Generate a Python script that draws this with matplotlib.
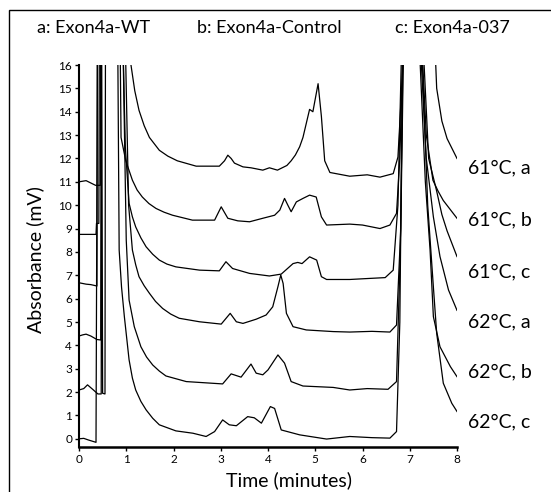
import matplotlib
matplotlib.use("Agg")
import matplotlib.pyplot as plt
import matplotlib.patches as mpatches

plt.rcParams['font.family'] = ['Lato', 'DejaVu Sans']

# chromatogram traces (time in minutes, absorbance in mV, 17 = off scale)
t_61a = [0, 0.15, 0.25, 0.35, 0.45, 0.46, 1.06, 1.10, 1.18, 1.27, 1.38, 1.49, 1.70, 1.88, 2.08, 2.48, 2.97,
         3.08, 3.15, 3.22, 3.29, 3.47, 3.64, 3.89, 4.03, 4.20, 4.40, 4.49, 4.58, 4.67, 4.74, 4.81, 4.88,
         4.95, 5.06, 5.13, 5.20, 5.31, 5.73, 6.10, 6.37, 6.65, 6.75, 6.83, 6.88, 7.53, 7.57, 7.68, 7.79, 8.0]
v_61a = [11.0, 11.05, 10.95, 10.85, 10.85, 17, 17, 16.0, 14.9, 14.06, 13.4, 12.9, 12.35, 12.1, 11.9, 11.67, 11.67,
         11.9, 12.14, 12.0, 11.8, 11.64, 11.6, 11.5, 11.6, 11.5, 11.7, 11.9, 12.15, 12.5, 12.9, 13.5, 14.1,
         14.0, 15.2, 13.8, 11.9, 11.4, 11.24, 11.3, 11.2, 11.35, 12.06, 15.0, 17, 17, 15.0, 13.6, 12.85, 12.0]

t_61b = [0, 0.36, 0.37, 0.42, 0.43, 0.87, 0.89, 0.99, 1.13, 1.23, 1.34, 1.48, 1.63, 1.80, 1.98, 2.40, 2.87,
         3.01, 3.15, 3.36, 3.61, 3.89, 4.14, 4.25, 4.35, 4.42, 4.49, 4.60, 4.74, 4.88, 5.02, 5.13, 5.24,
         5.73, 6.00, 6.37, 6.58, 6.72, 6.79, 6.86, 7.25, 7.35, 7.49, 7.60, 7.71, 8.0]
v_61b = [8.75, 8.75, 9.22, 9.22, 17, 17, 12.9, 11.9, 11.07, 10.65, 10.35, 10.07, 9.86, 9.7, 9.57, 9.36, 9.36,
         9.93, 9.44, 9.33, 9.29, 9.44, 9.57, 9.79, 10.29, 10.0, 9.72, 10.14, 10.29, 10.43, 10.35, 9.5, 9.15,
         9.19, 9.15, 9.0, 9.15, 9.65, 12.0, 17, 17, 13.0, 11.07, 10.6, 10.2, 9.44]

t_61c = [0, 0.15, 0.25, 0.38, 0.39, 0.93, 0.98, 1.06, 1.13, 1.20, 1.31, 1.42, 1.56, 1.70, 1.86, 2.05, 2.55,
         2.97, 3.11, 3.25, 3.61, 4.03, 4.28, 4.53, 4.63, 4.72, 4.88, 5.03, 5.13, 5.24, 5.73, 6.10, 6.48,
         6.65, 6.75, 6.83, 7.28, 7.40, 7.57, 7.68, 7.79, 8.0]
v_61c = [6.68, 6.62, 6.6, 6.54, 17, 17, 12.5, 10.08, 9.5, 9.07, 8.6, 8.22, 7.9, 7.65, 7.48, 7.36, 7.22,
         7.19, 7.58, 7.29, 7.08, 6.97, 7.05, 7.5, 7.55, 7.5, 7.79, 7.65, 6.94, 6.82, 6.82, 6.86, 6.9,
         7.22, 10.0, 17, 17, 12.0, 10.6, 9.6, 8.9, 7.8]

t_62a = [0, 0.08, 0.15, 0.25, 0.38, 0.46, 0.47, 0.98, 1.05, 1.13, 1.20, 1.27, 1.38, 1.49, 1.62, 1.77, 1.94,
         2.12, 2.55, 3.01, 3.20, 3.33, 3.47, 3.75, 3.96, 4.10, 4.21, 4.27, 4.32, 4.39, 4.53, 4.81, 5.38,
         5.73, 6.20, 6.58, 6.72, 6.81, 6.87, 7.22, 7.35, 7.50, 7.64, 7.82, 8.0]
v_62a = [4.4, 4.45, 4.48, 4.4, 4.25, 4.23, 17, 17, 10.0, 8.08, 7.45, 6.94, 6.55, 6.23, 5.88, 5.58, 5.34,
         5.16, 5.01, 4.91, 5.37, 5.01, 4.94, 5.12, 5.3, 5.65, 6.51, 7.01, 6.65, 5.37, 4.8, 4.66, 4.59,
         4.57, 4.6, 4.57, 4.87, 9.0, 17, 17, 12.0, 9.5, 7.8, 6.37, 5.5]

t_62b = [0, 0.10, 0.18, 0.30, 0.40, 0.47, 0.48, 0.50, 0.55, 0.56, 0.93, 1.00, 1.06, 1.17, 1.31, 1.43, 1.56,
         1.70, 1.84, 2.27, 3.04, 3.22, 3.43, 3.64, 3.75, 3.89, 4.00, 4.21, 4.35, 4.49, 4.74, 5.38, 5.73,
         6.10, 6.54, 6.72, 6.80, 6.86, 7.20, 7.33, 7.43, 7.50, 7.64, 7.86, 8.0]
v_62b = [2.09, 2.15, 2.31, 2.1, 1.92, 1.92, 17, 1.95, 1.92, 17, 17, 8.5, 5.94, 4.8, 3.94, 3.5, 3.16,
         2.9, 2.69, 2.45, 2.35, 2.78, 2.64, 3.2, 2.81, 2.74, 2.95, 3.59, 3.24, 2.45, 2.26, 2.2, 2.09,
         2.15, 2.12, 2.45, 8.0, 17, 17, 11.0, 8.08, 5.23, 3.94, 3.09, 2.66]

t_62c = [0, 0.10, 0.20, 0.36, 0.39, 0.82, 0.85, 0.90, 0.96, 1.06, 1.13, 1.20, 1.31, 1.42, 1.56, 1.70, 2.05,
         2.41, 2.69, 2.87, 3.04, 3.18, 3.33, 3.57, 3.71, 3.86, 4.05, 4.14, 4.28, 4.67, 5.24, 5.73, 6.20,
         6.58, 6.72, 6.79, 6.85, 7.25, 7.38, 7.50, 7.57, 7.71, 7.89, 8.0]
v_62c = [0.0, 0.02, -0.05, -0.15, 17, 17, 8.08, 6.5, 5.23, 3.38, 2.6, 2.09, 1.6, 1.24, 0.88, 0.6, 0.34,
         0.24, 0.1, 0.31, 0.81, 0.6, 0.56, 0.95, 0.9, 0.67, 1.38, 1.3, 0.38, 0.17, -0.01, 0.1, 0.05,
         0.03, 0.31, 5.0, 17, 17, 10.0, 6.5, 4.52, 2.38, 1.52, 1.17]

traces = [(t_61a, v_61a), (t_61b, v_61b), (t_61c, v_61c),
          (t_62a, v_62a), (t_62b, v_62b), (t_62c, v_62c)]
trace_labels = ["61°C, a", "61°C, b", "61°C, c", "62°C, a", "62°C, b", "62°C, c"]
label_y = [11.6, 9.37, 7.16, 5.0, 2.86, 0.72]
header = ["a: Exon4a-WT", "b: Exon4a-Control", "c: Exon4a-037"]
header_x = [0.1706, 0.489, 0.821]

fig = plt.figure(figsize=(5.51, 4.92), dpi=100)
ax = fig.add_axes([79 / 551, 1 - 447 / 492, (457 - 79) / 551, (447 - 65) / 492])

for t, v in traces:
    ax.plot(t, v, color='black', linewidth=0.9)

for lab, y in zip(trace_labels, label_y):
    ax.text(8.24, y, lab, fontsize=14, va='center', ha='left', clip_on=False)

for lab, x in zip(header, header_x):
    fig.text(x, 0.943, lab, fontsize=13, ha='center', va='center')

ax.set_xlim(0, 8)
ax.set_ylim(-0.35, 16)
ax.set_xticks(range(0, 9))
ax.set_yticks(range(0, 17))
ax.tick_params(axis='both', labelsize=8.5, length=3, width=1, pad=2)
ax.spines['top'].set_visible(False)
ax.spines['right'].set_visible(False)
ax.spines['bottom'].set_linewidth(1.8)
ax.spines['left'].set_linewidth(1.5)

fig.text(0.0635, 0.4715, "Absorbance (mV)", rotation=90, fontsize=14, ha='center', va='center')
fig.text(0.5236, 0.0244, "Time (minutes)", fontsize=14, ha='center', va='center')

# outer frame, cut off at right and bottom like the source
fig.patches.append(mpatches.Rectangle((9 / 551, -0.2), 1.2, 1 - 10 / 492 + 0.2,
                                      transform=fig.transFigure, fill=False,
                                      edgecolor='black', linewidth=1))

fig.savefig("out.png", dpi=100)
